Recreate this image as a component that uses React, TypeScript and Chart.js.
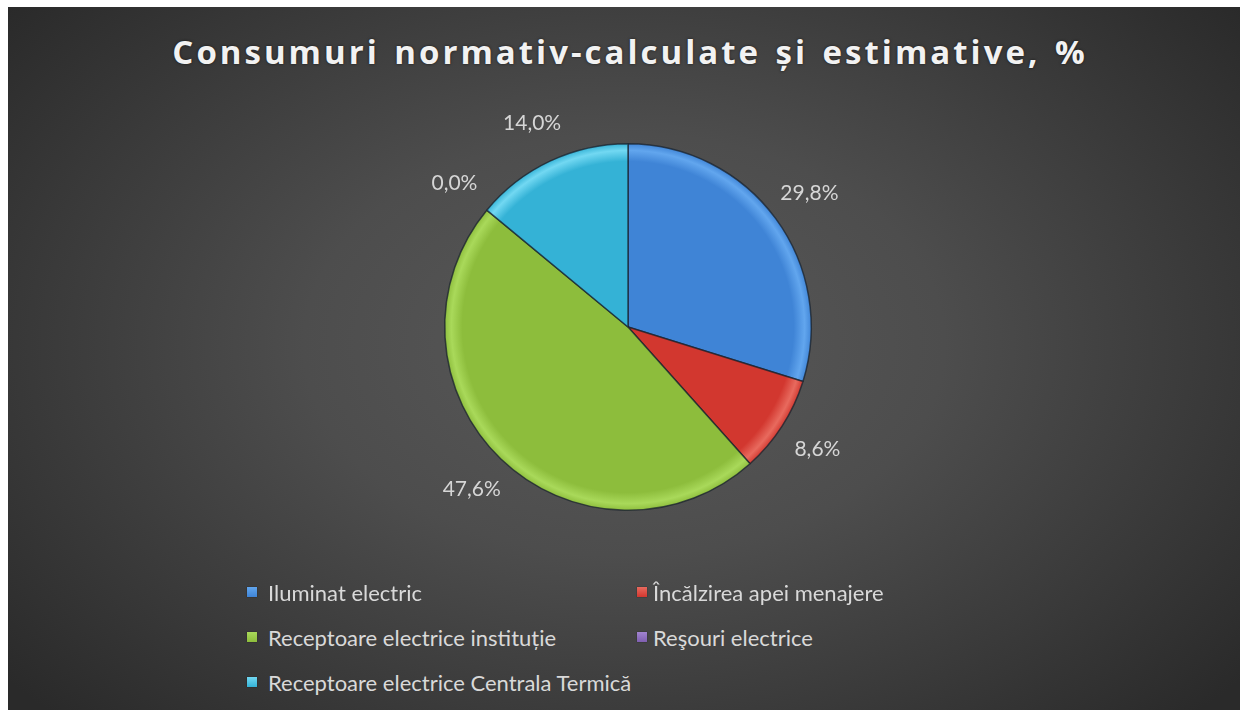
import React, { useEffect, useRef } from "react";
import { Chart, registerables } from "chart.js";

Chart.register(...registerables);

const TITLE = "Consumuri normativ-calculate și estimative, %";
const categories = [
  "Iluminat electric",
  "Încălzirea apei menajere",
  "Receptoare electrice instituție",
  "Reşouri electrice",
  "Receptoare electrice Centrala Termică",
];
const shares = [29.8, 8.6, 47.6, 0.0, 14.0];
const baseColors = ["#3f84d6", "#d2372f", "#8dbd3c", "#7f5fb0", "#34b2d6"];
const rimColors = ["#62a6ee", "#e86a5e", "#a9d95a", "#a184d0", "#72d8f2"];

const fmt = (v: number) => v.toFixed(1).replace(".", ",") + "%";

const labelPlugin = {
  id: "outsideLabels",
  afterDatasetsDraw(chart: any) {
    const ctx = chart.ctx;
    const meta = chart.getDatasetMeta(0);
    ctx.save();
    ctx.font = "21px Lato";
    ctx.fillStyle = "#d6d6d6";
    ctx.textAlign = "center";
    ctx.textBaseline = "middle";
    meta.data.forEach((arc: any, i: number) => {
      const p = arc.getProps(["x", "y", "startAngle", "endAngle", "outerRadius"], true);
      const mid = (p.startAngle + p.endAngle) / 2;
      const d = p.outerRadius + 42;
      ctx.fillText(fmt(shares[i]), p.x + Math.cos(mid) * d, p.y + Math.sin(mid) * d);
    });
    ctx.restore();
  },
};

export default function App() {
  const ref = useRef<HTMLCanvasElement | null>(null);
  useEffect(() => {
    if (!ref.current) return;
    const chart = new Chart(ref.current, {
      type: "pie",
      data: {
        labels: categories,
        datasets: [
          {
            data: shares,
            backgroundColor: (c: any) => {
              const ch = c.chart;
              const a = ch.chartArea;
              const i = c.dataIndex;
              if (!a) return baseColors[i];
              const cx = (a.left + a.right) / 2;
              const cy = (a.top + a.bottom) / 2;
              const r = Math.min(a.right - a.left, a.bottom - a.top) / 2;
              const g = ch.ctx.createRadialGradient(cx, cy, 0, cx, cy, r);
              g.addColorStop(0, baseColors[i]);
              g.addColorStop(0.9, baseColors[i]);
              g.addColorStop(0.96, rimColors[i]);
              g.addColorStop(1, baseColors[i]);
              return g;
            },
            borderColor: "rgba(25,35,45,0.75)",
            borderWidth: 1.5,
          },
        ],
      },
      options: {
        responsive: false,
        animation: false,
        layout: { padding: { top: 96, bottom: 96, left: 166, right: 166 } },
        plugins: {
          legend: { display: false },
          tooltip: { enabled: false },
          title: { display: false },
        },
      },
      plugins: [labelPlugin],
    });
    return () => chart.destroy();
  }, []);

  return (
    <div
      style={{
        position: "absolute",
        left: 8,
        top: 7,
        width: 1232,
        height: 703,
        overflow: "hidden",
        background:
          "radial-gradient(ellipse 65% 75% at 50% 48%, #595959 0%, #4d4d4d 40%, #2a2a2a 100%)",
        fontFamily: "Lato, sans-serif",
      }}
    >
      <div
        style={{
          position: "absolute",
          left: 0,
          width: 1244,
          top: 22,
          textAlign: "center",
          color: "#f2f2f2",
          fontFamily: "'Open Sans', sans-serif",
          fontWeight: 700,
          fontSize: 33,
          letterSpacing: 3,
          wordSpacing: 3,
          whiteSpace: "nowrap",
          textShadow: "0 0 3px rgba(0,0,0,0.6)",
        }}
      >
        {TITLE}
      </div>
      <canvas
        ref={ref}
        width={700}
        height={560}
        style={{ position: "absolute", left: 270, top: 40, width: 700, height: 560 }}
      />
      {categories.map((name, i) => {
        const col = i % 2;
        const row = Math.floor(i / 2);
        const left = col === 0 ? 239 : 629;
        const cy = 585 + row * 45;
        return (
          <div
            key={name}
            style={{
              position: "absolute",
              left,
              top: cy - 14,
              height: 28,
              display: "flex",
              alignItems: "center",
              whiteSpace: "nowrap",
              color: "#d9d9d9",
              fontSize: 22,
            }}
          >
            <span
              style={{
                display: "inline-block",
                width: 10,
                height: 10,
                marginRight: col === 0 ? 11 : 6,
                background: `linear-gradient(180deg, ${rimColors[i]}, ${baseColors[i]})`,
                boxShadow: "0 0 1px rgba(0,0,0,0.6)",
              }}
            />
            <span>{name}</span>
          </div>
        );
      })}
    </div>
  );
}
